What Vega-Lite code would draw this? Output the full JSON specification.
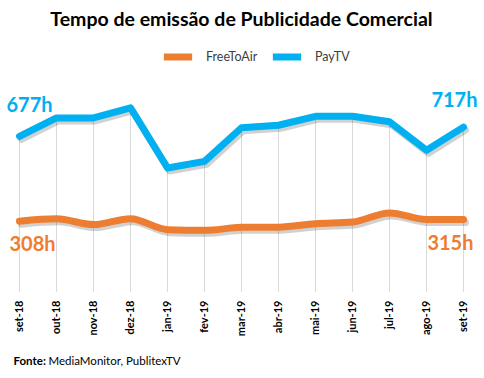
{
  "$schema": "https://vega.github.io/schema/vega-lite/v6.json",
  "width": 483,
  "height": 207,
  "autosize": {"type": "none"},
  "padding": {"left": 0, "top": 85, "right": 1, "bottom": 86},
  "background": "white",
  "title": {
    "text": "Tempo de emissão de Publicidade Comercial",
    "font": "Lato",
    "fontSize": 19.5,
    "fontWeight": "bold",
    "color": "#000000",
    "anchor": "middle",
    "offset": 9
  },
  "config": {"view": {"stroke": null}, "font": "Lato"},
  "data": {
    "values": [
      {"month": "set-18", "series": "PayTV", "value": 677},
      {"month": "out-18", "series": "PayTV", "value": 757},
      {"month": "nov-18", "series": "PayTV", "value": 757},
      {"month": "dez-18", "series": "PayTV", "value": 801},
      {"month": "jan-19", "series": "PayTV", "value": 539},
      {"month": "fev-19", "series": "PayTV", "value": 568},
      {"month": "mar-19", "series": "PayTV", "value": 714},
      {"month": "abr-19", "series": "PayTV", "value": 725},
      {"month": "mai-19", "series": "PayTV", "value": 764},
      {"month": "jun-19", "series": "PayTV", "value": 764},
      {"month": "jul-19", "series": "PayTV", "value": 740},
      {"month": "ago-19", "series": "PayTV", "value": 616},
      {"month": "set-19", "series": "PayTV", "value": 717},
      {"month": "set-18", "series": "FreeToAir", "value": 308},
      {"month": "out-18", "series": "FreeToAir", "value": 318},
      {"month": "nov-18", "series": "FreeToAir", "value": 293},
      {"month": "dez-18", "series": "FreeToAir", "value": 319},
      {"month": "jan-19", "series": "FreeToAir", "value": 271},
      {"month": "fev-19", "series": "FreeToAir", "value": 268},
      {"month": "mar-19", "series": "FreeToAir", "value": 281},
      {"month": "abr-19", "series": "FreeToAir", "value": 282},
      {"month": "mai-19", "series": "FreeToAir", "value": 297},
      {"month": "jun-19", "series": "FreeToAir", "value": 304},
      {"month": "jul-19", "series": "FreeToAir", "value": 344},
      {"month": "ago-19", "series": "FreeToAir", "value": 315},
      {"month": "set-19", "series": "FreeToAir", "value": 315}
    ]
  },
  "encoding": {
    "x": {
      "field": "month",
      "type": "ordinal",
      "sort": null,
      "scale": {"type": "point", "padding": 0.527},
      "axis": {
        "title": null,
        "grid": false,
        "ticks": false,
        "domain": false,
        "labelAngle": -90,
        "labelAlign": "right",
        "labelBaseline": "middle",
        "labelFont": "Lato",
        "labelFontSize": 11,
        "labelFontWeight": "bold",
        "labelColor": "#000000",
        "labelPadding": 8
      }
    },
    "y": {
      "field": "value",
      "type": "quantitative",
      "scale": {"domain": [0, 900]},
      "axis": null
    }
  },
  "layer": [
    {
      "transform": [{"filter": "datum.series === 'PayTV'"}],
      "mark": {"type": "rule", "color": "#D9D9D9", "strokeWidth": 1},
      "encoding": {"y2": {"datum": 0}}
    },
    {
      "transform": [{"filter": "datum.series === 'PayTV'"}],
      "mark": {"type": "line", "color": "#000000", "opacity": 0.18, "strokeWidth": 7, "strokeCap": "round", "strokeJoin": "round", "xOffset": 2, "yOffset": 3},
      "encoding": {}
    },
    {
      "transform": [{"filter": "datum.series === 'FreeToAir'"}],
      "mark": {"type": "line", "color": "#000000", "opacity": 0.18, "strokeWidth": 7, "strokeCap": "round", "interpolate": "monotone", "xOffset": 2, "yOffset": 3},
      "encoding": {}
    },
    {
      "transform": [{"filter": "datum.series === 'FreeToAir'"}],
      "mark": {"type": "line", "strokeWidth": 7, "strokeCap": "round", "interpolate": "monotone"},
      "encoding": {
        "color": {
          "field": "series",
          "type": "nominal",
          "scale": {"domain": ["FreeToAir", "PayTV"], "range": ["#ED7D31", "#00B0F0"]},
          "legend": {
            "orient": "none",
            "legendX": 160,
            "legendY": -46,
            "direction": "horizontal",
            "title": null,
            "symbolType": "stroke",
            "symbolStrokeWidth": 7,
            "symbolSize": 800,
            "labelFont": "Lato",
            "labelFontSize": 12.5,
            "labelColor": "#404040",
            "labelOffset": 10,
            "columnPadding": 0
          }
        }
      }
    },
    {
      "transform": [{"filter": "datum.series === 'PayTV'"}],
      "mark": {"type": "line", "strokeWidth": 7, "strokeCap": "round", "strokeJoin": "round"},
      "encoding": {"color": {"field": "series", "type": "nominal"}}
    },
    {
      "transform": [
        {"filter": "datum.series === 'PayTV' && datum.month === 'set-18'"},
        {"calculate": "datum.value + 'h'", "as": "label"}
      ],
      "mark": {"type": "text", "align": "left", "baseline": "alphabetic", "dx": -13, "dy": -24, "font": "Lato", "fontSize": 20, "fontWeight": "bold", "color": "#00B0F0"},
      "encoding": {"text": {"field": "label"}}
    },
    {
      "transform": [
        {"filter": "datum.series === 'PayTV' && datum.month === 'set-19'"},
        {"calculate": "datum.value + 'h'", "as": "label"}
      ],
      "mark": {"type": "text", "align": "right", "baseline": "alphabetic", "dx": 14, "dy": -20, "font": "Lato", "fontSize": 20, "fontWeight": "bold", "color": "#00B0F0"},
      "encoding": {"text": {"field": "label"}}
    },
    {
      "transform": [
        {"filter": "datum.series === 'FreeToAir' && datum.month === 'set-18'"},
        {"calculate": "datum.value + 'h'", "as": "label"}
      ],
      "mark": {"type": "text", "align": "left", "baseline": "alphabetic", "dx": -10, "dy": 30, "font": "Lato", "fontSize": 20, "fontWeight": "bold", "color": "#ED7D31"},
      "encoding": {"text": {"field": "label"}}
    },
    {
      "transform": [
        {"filter": "datum.series === 'FreeToAir' && datum.month === 'set-19'"},
        {"calculate": "datum.value + 'h'", "as": "label"}
      ],
      "mark": {"type": "text", "align": "right", "baseline": "alphabetic", "dx": 10, "dy": 30, "font": "Lato", "fontSize": 20, "fontWeight": "bold", "color": "#ED7D31"},
      "encoding": {"text": {"field": "label"}}
    },
    {
      "transform": [{"filter": "datum.series === 'PayTV' && datum.month === 'set-18'"}],
      "mark": {"type": "text", "align": "left", "baseline": "alphabetic", "dx": -6, "dy": 73, "font": "Lato", "fontSize": 11.5, "fontWeight": "bold", "color": "#000000"},
      "encoding": {"y": {"datum": 0, "type": "quantitative"}, "text": {"value": "Fonte:"}}
    },
    {
      "transform": [{"filter": "datum.series === 'PayTV' && datum.month === 'set-18'"}],
      "mark": {"type": "text", "align": "left", "baseline": "alphabetic", "dx": 29, "dy": 73, "font": "Lato", "fontSize": 11.5, "color": "#000000"},
      "encoding": {"y": {"datum": 0, "type": "quantitative"}, "text": {"value": "MediaMonitor, PublitexTV"}}
    }
  ]
}
